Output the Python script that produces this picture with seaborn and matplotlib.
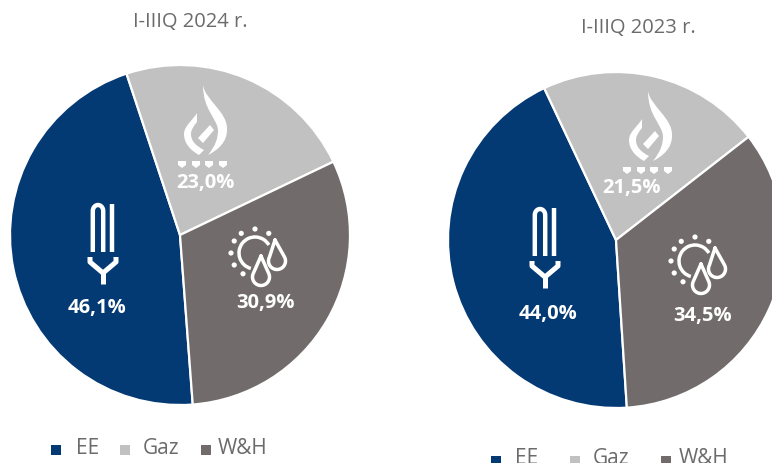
import matplotlib
matplotlib.use("Agg")
import matplotlib.pyplot as plt
import seaborn as sns
import numpy as np
from matplotlib.path import Path
from matplotlib.patches import PathPatch, Circle, Polygon, Arc

# dane
categories = ["EE", "Gaz", "W&H"]
values_2024 = [46.1, 23.0, 30.9]
values_2023 = [44.0, 21.5, 34.5]
title_2024 = "I-IIIQ 2024 r."
title_2023 = "I-IIIQ 2023 r."
colors = ["#033a74", "#c1c1c1", "#716c6b"]

sns.set_theme(style="white")
plt.rcParams["font.family"] = ["Open Sans", "DejaVu Sans"]
palette = sns.color_palette(colors)

W, H = 772, 463
fig = plt.figure(figsize=(W / 100, H / 100), dpi=100)
ax = fig.add_axes([0, 0, 1, 1])


def py(y):
    return H - y


def draw_pie(vals, cx, cy, r, start):
    ax.pie(vals, colors=palette, center=(cx, py(cy)), radius=r, startangle=start,
           counterclock=False, wedgeprops={"edgecolor": "white", "linewidth": 1.6})


def curve(points, dx, dy):
    # M/C/L w pikselach
    verts, codes = [], []
    for code, pts in points:
        for p in pts:
            verts.append((p[0] + dx, py(p[1] + dy)))
            codes.append(code)
    return Path(verts, codes)


def flame(dx, dy):
    big = [(Path.MOVETO, [(203, 85)]),
           (Path.CURVE4, [(205, 100), (228, 112), (227, 130)]),
           (Path.CURVE4, [(227, 142), (218, 150), (208, 155)]),
           (Path.CURVE4, [(216, 145), (218, 138), (218, 130)]),
           (Path.CURVE4, [(217, 118), (203, 110), (203, 85)])]
    left = [(Path.MOVETO, [(197, 113)]),
            (Path.LINETO, [(197, 122)]),
            (Path.CURVE4, [(193, 127), (191, 130), (191, 134)]),
            (Path.CURVE4, [(191, 141), (196, 146), (204, 150)]),
            (Path.LINETO, [(199, 155)]),
            (Path.CURVE4, [(190, 150), (184, 143), (184, 134)]),
            (Path.CURVE4, [(184, 126), (193, 120), (197, 113)])]
    for p in (big, left):
        ax.add_patch(PathPatch(curve(p, dx, dy), fc="white", ec="none"))
    diamond = [(210, 125), (198, 138), (203, 143), (214, 130)]
    ax.add_patch(Polygon([(x + dx, py(y + dy)) for x, y in diamond], fc="white", ec="none"))
    for x in [182, 196, 209, 223]:
        drop = [(x - 4, 161), (x + 4, 161), (x + 4, 165), (x, 168), (x - 4, 165)]
        ax.add_patch(Polygon([(a + dx, py(b + dy)) for a, b in drop], fc="white", ec="none"))


def bulb(dx, dy):
    lw = 3.2
    t = np.linspace(np.pi, 0, 20)
    xs = 98 + 5.2 * np.cos(t)
    ys = 211 - 6 * np.sin(t)
    xs = np.r_[xs[0], xs, xs[-1]] + dx
    ys = np.r_[252, ys, 252] + dy
    ax.plot(xs, py(ys), color="white", lw=lw, solid_capstyle="butt")
    ax.plot(np.array([112, 112]) + dx, py(np.array([252, 204]) + dy), color="white", lw=lw, solid_capstyle="butt")
    ax.plot(np.array([90, 90, 103, 116, 116]) + dx, py(np.array([257, 262, 273, 262, 257]) + dy), color="white",
            lw=3.6, solid_capstyle="butt")
    ax.plot(np.array([103, 103]) + dx, py(np.array([272, 284]) + dy), color="white", lw=3.6, solid_capstyle="butt")


def drop_shape(tx, ty, cx, cy, r, dx, dy, lw):
    t = np.linspace(-0.15 * np.pi, 1.15 * np.pi, 40)
    xs = cx + r * np.cos(t)
    ys = cy + r * np.sin(t)
    xs = np.r_[tx, xs, tx] + dx
    ys = np.r_[ty, ys, ty] + dy
    ax.plot(xs, py(ys), color="white", lw=lw, solid_joinstyle="miter")


def sun(dx, dy):
    lw = 2.5
    cx, cy = 255 + dx, 253 + dy
    ax.add_patch(Arc((cx, py(cy)), 32, 32, theta1=30, theta2=255, color="white", lw=lw))
    for ang in [90, 125, 55, 150, 180, 210, 240]:
        a = np.radians(ang)
        ax.add_patch(Circle((cx + 24 * np.cos(a), py(cy) + 24 * np.sin(a)), 2.6, fc="white", ec="none"))
    drop_shape(261, 256, 261, 277, 8.5, dx, dy, lw)
    drop_shape(275, 240, 277, 261, 8.5, dx, dy, lw)


draw_pie(values_2024, 180, 235, 170, -85.7)
draw_pie(values_2023, 616, 240, 168, -86.3)

flame(0, 0)
bulb(0, 0)
sun(0, 0)
flame(445, 6)
bulb(442, 4)
sun(440, 8)


def pct(v):
    return f"{v:.1f}%".replace(".", ",")


label_pos_2024 = [(97, 308), (205, 183), (265, 303)]
label_pos_2023 = [(548, 314), (632, 188), (702, 316)]
for vals, pos in [(values_2024, label_pos_2024), (values_2023, label_pos_2023)]:
    for v, (x, y) in zip(vals, pos):
        ax.text(x, py(y), pct(v), color="white", fontsize=14.5, fontweight="bold",
                ha="center", va="center")

ax.text(190, py(22), title_2024, color="#6b6b6b", fontsize=14.5, ha="center", va="center")
ax.text(638, py(28), title_2023, color="#6b6b6b", fontsize=14.5, ha="center", va="center")

# legendy
legend_sets = [([55.5, 124.5, 206], [76, 143, 218], 449.5, 448.5),
               ([495.5, 575, 665.5], [515, 593, 679], 461, 458.5)]
for xs, txs, my, ty in legend_sets:
    for name, col, x, tx in zip(categories, palette, xs, txs):
        ax.add_patch(plt.Rectangle((x - 5, py(my) - 5), 10, 10, fc=col, ec="none"))
        ax.text(tx, py(ty), name, color="#6b6b6b", fontsize=15, ha="left", va="center")

ax.set_xlim(0, W)
ax.set_ylim(0, H)
ax.set_aspect("auto")
ax.axis("off")
fig.savefig("out.png", dpi=100)
